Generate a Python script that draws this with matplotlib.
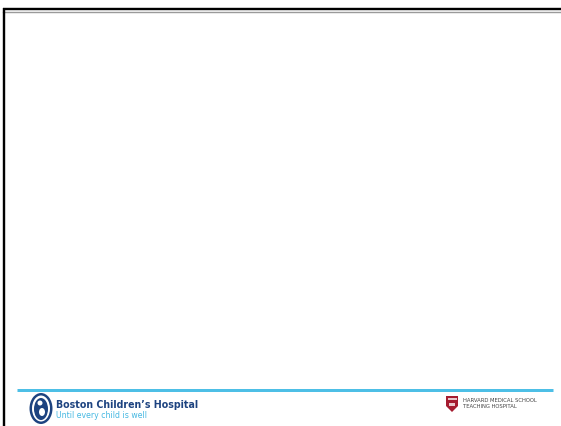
import matplotlib
matplotlib.use("Agg")
import matplotlib.pyplot as plt
from matplotlib.patches import Ellipse, Polygon, Rectangle
from matplotlib.lines import Line2D

W, H = 561, 426
brand_title = "Boston Children\u2019s Hospital"
brand_tagline = "Until every child is well"
harvard_lines = ["HARVARD MEDICAL SCHOOL", "TEACHING HOSPITAL"]

fig = plt.figure(figsize=(W / 100, H / 100), dpi=100)
fig.patch.set_facecolor("white")

def fx(x):
    return x / W

def fy(y):
    return 1 - y / H

px = 72 / 100  # points per pixel

# frame: top and left borders
fig.add_artist(Line2D([fx(3), fx(561)], [fy(11.5), fy(11.5)], color="#9a9a9a", lw=1.4 * px))
fig.add_artist(Line2D([fx(3), fx(561)], [fy(9), fy(9)], color="black", lw=2.4 * px, solid_capstyle="butt"))
fig.add_artist(Line2D([fx(4), fx(4)], [fy(8), fy(426)], color="black", lw=2.4 * px, solid_capstyle="butt"))

# blue footer rule
fig.add_artist(Line2D([fx(17), fx(553)], [fy(390), fy(390)], color="#4dbfe6", lw=3 * px, solid_capstyle="butt"))

# Boston Children's logo emblem
navy = "#1d4380"
fig.add_artist(Ellipse((fx(41), fy(408.5)), 23 / W, 31 / H, facecolor=navy, edgecolor="none"))
fig.add_artist(Ellipse((fx(41), fy(408.5)), 18 / W, 26 / H, facecolor="white", edgecolor="none"))
fig.add_artist(Ellipse((fx(41), fy(409)), 14 / W, 22 / H, facecolor=navy, edgecolor="none"))
fig.add_artist(Ellipse((fx(40), fy(403)), 5 / W, 5 / H, facecolor="white", edgecolor="none"))
fig.add_artist(Ellipse((fx(42), fy(412)), 6 / W, 8 / H, facecolor="white", edgecolor="none"))

fig.text(fx(56), fy(404.5), brand_title, fontsize=6.85, fontweight="bold", color=navy,
         va="center", ha="left", family="DejaVu Sans")
fig.text(fx(56), fy(415.5), brand_tagline, fontsize=5.6, color="#45b8e2",
         va="center", ha="left", family="DejaVu Sans")

# Harvard shield
red = "#a51c30"
shield = Polygon([(fx(446), fy(396)), (fx(458), fy(396)), (fx(458), fy(406)),
                  (fx(452), fy(412)), (fx(446), fy(406))], closed=True,
                 facecolor=red, edgecolor="none")
fig.add_artist(shield)
fig.add_artist(Rectangle((fx(447.5), fy(400)), 9 / W, 2.5 / H, facecolor="#e8c8cc", edgecolor="none"))
fig.add_artist(Rectangle((fx(449), fy(406)), 6 / W, 3 / H, facecolor="#e8c8cc", edgecolor="none"))

fig.text(fx(463), fy(400), harvard_lines[0], fontsize=3.75, color="#444444",
         va="center", ha="left", family="DejaVu Sans")
fig.text(fx(463), fy(406.5), harvard_lines[1], fontsize=3.75, color="#444444",
         va="center", ha="left", family="DejaVu Sans")

fig.savefig("out.png", dpi=100, facecolor="white")
